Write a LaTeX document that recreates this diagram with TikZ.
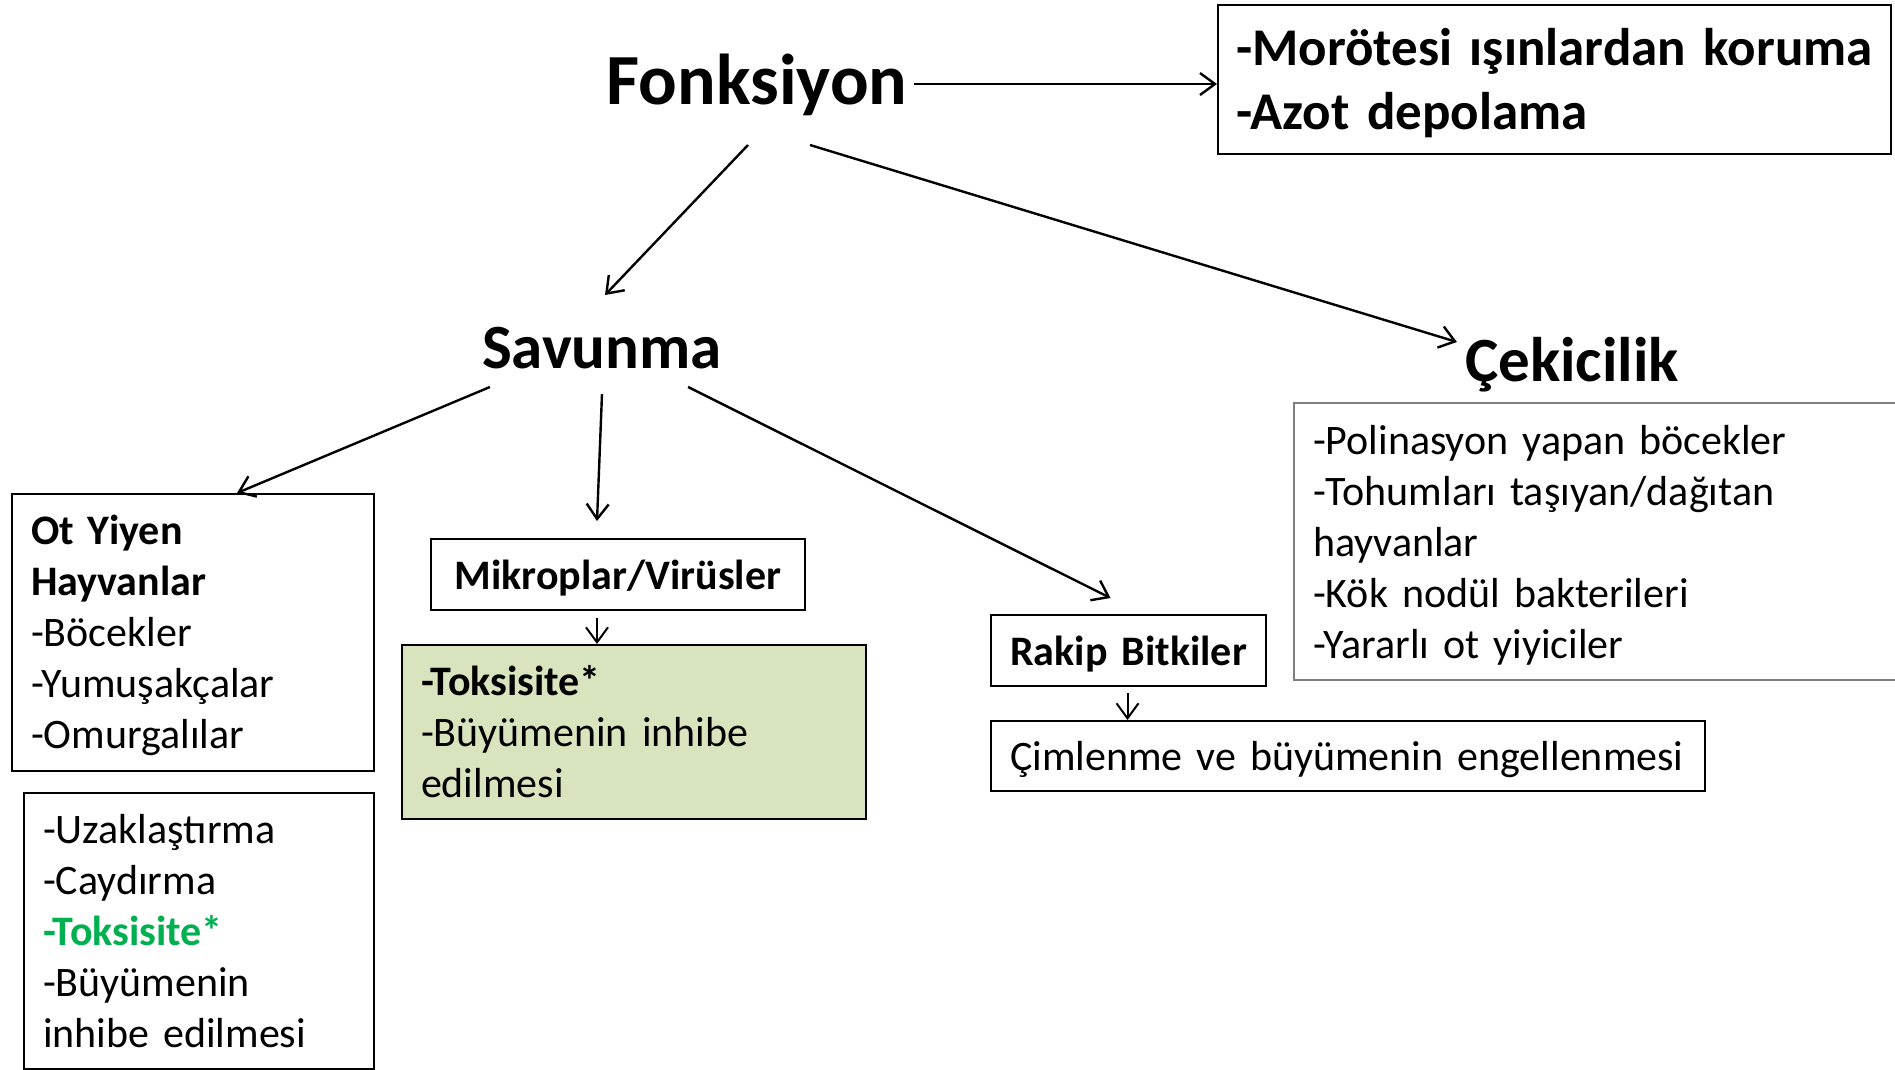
\documentclass[tikz,border=0pt]{standalone}
\usepackage{fontspec}
\setmainfont{Carlito}
\usetikzlibrary{arrows.meta}

\definecolor{yesil}{HTML}{D7E4BD}
\definecolor{koyuyesil}{HTML}{00B050}
\definecolor{gri}{HTML}{7F7F7F}

\newcommand{\ustbosluk}[1]{\rule{0pt}{#1}}

\begin{document}
\begin{tikzpicture}[x=1pt, y=-1pt,
	arr/.style={-{Straight Barb[length=15pt, width=22pt]}, line width=2.4pt},
	kutu/.style={draw, line width=2pt, anchor=north west, align=left, inner xsep=19pt, inner ysep=0pt,
		font=\fontsize{42}{51}\selectfont},
	baslik/.style={anchor=base, inner sep=0pt, font=\bfseries\fontsize{63}{76}\selectfont}]
	
	\useasboundingbox (0,0) rectangle (1895,1069);
	
	% --- Başlıklar ---
	\node[baslik, font=\bfseries\fontsize{72}{86}\selectfont] (fonk) at (757,104) {Fonksiyon};
	\node[baslik] (sav) at (602,368) {Savunma};
	\node[baslik] (cek) at (1572,381) {Çekicilik};
	
	% --- Kutular ---
	\node[kutu, inner xsep=18pt, text width=637pt, minimum height=149pt,
		font=\bfseries\fontsize{53}{64}\selectfont] (morot) at (1217,4)
		{\ustbosluk{45pt}-Morötesi ışınlardan koruma\\-Azot depolama};
	
	\node[kutu, text width=324pt, minimum height=277pt] (ot) at (11,493)
		{\ustbosluk{35pt}\textbf{Ot Yiyen}\\\textbf{Hayvanlar}\\-Böcekler\\-Yumuşakçalar\\-Omurgalılar};
	\node[kutu, text width=312pt, minimum height=276pt] (uzak) at (23,792)
		{-Uzaklaştırma\\-Caydırma\\\textcolor{koyuyesil}{\textbf{-Toksisite*}}\\-Büyümenin\\inhibe edilmesi};
	
	\node[kutu, align=center, text width=336pt, minimum height=71pt] (mikro) at (430,538)
		{\ustbosluk{37pt}\textbf{Mikroplar/Virüsler}};
	\node[kutu, fill=yesil, text width=426pt, minimum height=174pt] (green) at (401,644)
		{\textbf{-Toksisite*}\\-Büyümenin inhibe\\edilmesi};
	
	\node[kutu, align=center, text width=237pt, minimum height=71pt] (rakip) at (990,614)
		{\ustbosluk{37pt}\textbf{Rakip Bitkiler}};
	\node[kutu, text width=676pt, minimum height=70pt] (cimlen) at (990,720)
		{\ustbosluk{37pt}Çimlenme ve büyümenin engellenmesi};
	
	\node[kutu, draw=gri, text width=582pt, minimum height=277pt] (cekkutu) at (1293,402)
		{\ustbosluk{36pt}-Polinasyon yapan böcekler\\-Tohumları taşıyan/dağıtan\\hayvanlar\\-Kök nodül bakterileri\\-Yararlı ot yiyiciler};
	
	% --- Oklar ---
	\draw[arr] ([xshift=7pt, yshift=20pt]fonk.base east) coordinate (fa) -- (fa -| morot.west);
	\draw[arr] ([xshift=-9pt, yshift=-41pt]fonk.base) -- ([xshift=3pt, yshift=73pt]sav.base);
	\draw[arr] ([xshift=53pt, yshift=-41pt]fonk.base) -- ([xshift=-8pt, yshift=39pt]cek.base west);
	
	\draw[arr] ([xshift=8pt, yshift=-19pt]sav.base west) -- ([xshift=44pt]ot.north);
	\draw[arr] ([yshift=-26pt]sav.base) -- ([xshift=-21pt, yshift=17pt]mikro.north);
	\draw[arr] ([xshift=-34pt, yshift=-19pt]sav.base east) -- ([xshift=-18pt, yshift=16pt]rakip.north);
	
	\draw[arr, line width=2pt] ([xshift=-21pt, yshift=-7pt]mikro.south) coordinate (ma) -- (ma |- green.north);
	\draw[arr, line width=2pt] ([xshift=-1pt, yshift=-6pt]rakip.south) coordinate (ra) -- (ra |- cimlen.north);
	
\end{tikzpicture}
\end{document}
